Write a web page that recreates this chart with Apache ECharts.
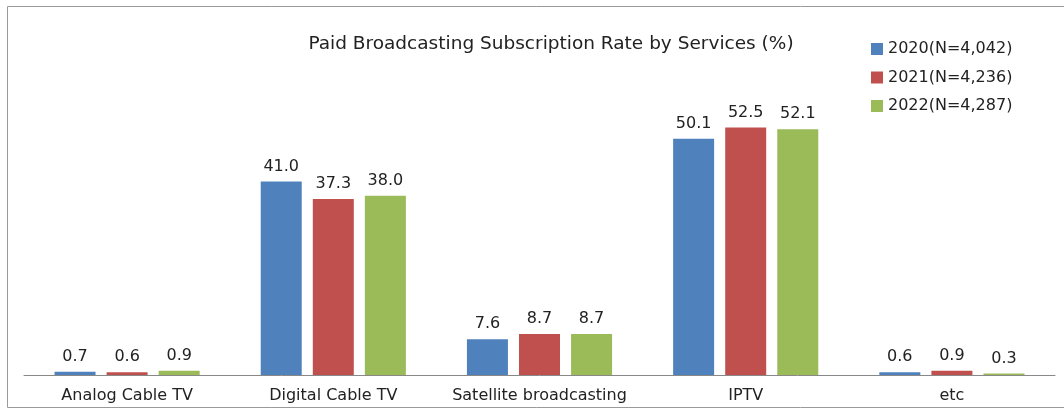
<!DOCTYPE html>
<html><head><meta charset="utf-8">
<script src="https://cdn.jsdelivr.net/npm/echarts@6/dist/echarts.min.js"></script>
<style>html,body{margin:0;padding:0;background:#fff}#c{width:1064px;height:410px}</style>
</head><body><div id="c"></div>
<script>
const categories = ['Analog Cable TV','Digital Cable TV','Satellite broadcasting','IPTV','etc'];
const seriesNames = ['2020(N=4,042)','2021(N=4,236)','2022(N=4,287)'];
const values2020 = [0.7, 41.0, 7.6, 50.1, 0.6];
const values2021 = [0.6, 37.3, 8.7, 52.5, 0.9];
const values2022 = [0.9, 38.0, 8.7, 52.1, 0.3];
const colors = ['#4F81BD','#C0504D','#9BBB59'];
const font = '"DejaVu Sans", sans-serif';
const chart = echarts.init(document.getElementById('c'));
const data = [values2020, values2021, values2022];
chart.setOption({
  animation:false,
  color: colors,
  graphic:[{type:'rect',shape:{x:7.5,y:6.5,width:1070,height:401},style:{fill:'none',stroke:'#9a9a9a',lineWidth:1}}],
  title:{text:'Paid Broadcasting Subscription Rate by Services (%)',left:546,top:30,textAlign:'center',
    textStyle:{fontFamily:font,fontSize:18.5,fontWeight:'normal',color:'#222'}},
  legend:{orient:'vertical',left:866,top:36,itemWidth:12,itemHeight:12,itemGap:12.5,icon:'rect',
    textStyle:{fontFamily:font,fontSize:16,color:'#222'},data:seriesNames},
  grid:{left:24,right:9,top:92,bottom:35},
  xAxis:{type:'category',data:categories,axisTick:{show:false},
    axisLine:{lineStyle:{color:'#888'}},
    axisLabel:{interval:0,fontFamily:font,fontSize:16,color:'#222',margin:13}},
  yAxis:{type:'value',min:0,max:60,show:false,splitLine:{show:false}},
  series: seriesNames.map((n,i)=>({name:n,type:'bar',data:data[i],barWidth:41,barGap:'27%',
    label:{show:true,position:'top',distance:7,fontFamily:font,fontSize:16,color:'#222',formatter:p=>p.value.toFixed(1)}}))
});
</script></body></html>
